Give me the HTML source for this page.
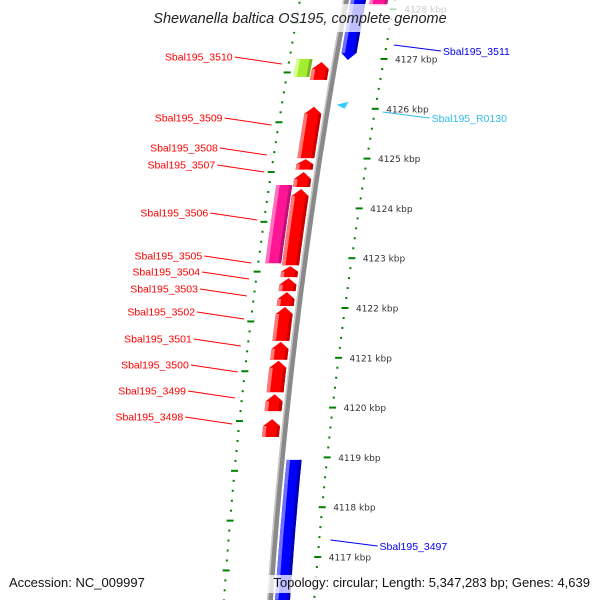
<!DOCTYPE html>
<html><head><meta charset="utf-8"><style>
html,body{margin:0;padding:0;background:#fff;}
svg{display:block;font-family:"Liberation Sans","DejaVu Sans",sans-serif;}
</style></head><body>
<svg id="chart" width="600" height="600" viewBox="0 0 600 600" xmlns="http://www.w3.org/2000/svg">
<rect x="0" y="0" width="600" height="600" fill="#fff"/>
<g id="rings"></g>
<g id="backbone"></g>
<g id="genes"></g>
<g id="labels"></g>
<rect x="140" y="4" width="320" height="28" fill="#fff" opacity="0.75"/>
<text x="300" y="23" text-anchor="middle" font-style="italic" font-size="14.5" fill="#222">Shewanella baltica OS195, complete genome</text>
<rect x="4" y="575" width="146" height="18" fill="#fff" opacity="0.75"/>
<rect x="258" y="575" width="338" height="18" fill="#fff" opacity="0.75"/>
<text x="9" y="587" font-size="13" fill="#111">Accession: NC_009997</text>
<text x="590" y="587" text-anchor="end" font-size="13" fill="#111">Topology: circular; Length: 5,347,283 bp; Genes: 4,639</text>
</svg>
<script>
// ---- data ----
const geneNames   = ["Sbal195_3510","Sbal195_3510b","Sbal195_3509","Sbal195_3508","Sbal195_3507","Sbal195_3506","Sbal195_3506b","Sbal195_3505","Sbal195_3504","Sbal195_3503","Sbal195_3502","Sbal195_3501","Sbal195_3500","Sbal195_3499","Sbal195_3498","Sbal195_3497","Sbal195_3511","Sbal195_3512","Sbal195_3513"];
const geneStarts  = [4126.64,4126.58,4125.01,4124.78,4124.43,4122.90,4122.86,4122.62,4122.34,4122.04,4121.34,4120.96,4120.31,4119.93,4119.41,4116.00,4126.98,4128.18,4128.08];
const geneEnds    = [4127.00,4126.94,4126.04,4124.99,4124.73,4124.47,4124.39,4122.84,4122.60,4122.32,4122.02,4121.32,4120.94,4120.27,4119.77,4118.95,4128.40,4128.40,4128.40];
const geneStrands = [0,1,1,1,1,0,1,1,1,1,1,1,1,1,1,-1,-1,-1,0];
const geneTracks  = ["L2","L1","L1","L1","L1","L2","L1","L1","L1","L1","L1","L1","L1","L1","L1","R1","R1","R1","R2"];
const geneColors  = ["green","red","red","red","red","pink","red","red","red","red","red","red","red","red","red","blue","blue","blue","pink"];
const tickLabels  = [4128,4127,4126,4125,4124,4123,4122,4121,4120,4119,4118,4117];
const leftLabelNames = ["Sbal195_3510","Sbal195_3509","Sbal195_3508","Sbal195_3507","Sbal195_3506","Sbal195_3505","Sbal195_3504","Sbal195_3503","Sbal195_3502","Sbal195_3501","Sbal195_3500","Sbal195_3499","Sbal195_3498"];
const leftLabelY  = [56,117,147,164,212,255,271,288,311,338,364,390,416];
const rightLabelNames = ["Sbal195_3511","Sbal195_R0130","Sbal195_3497"];
const rightLabelY = [45,112,540];
const rightLabelColors = ["#0000ee","#33bbee","#0000ee"];
const rnaPos = 4126.06;

// ---- scales ----
const NS="http://www.w3.org/2000/svg";
function ky(k){return 59+(4127-k)*49.8;}
function bx(y){return 346-0.1838*y+0.0000952*y*y;}
const trackOff={L2:[-39,-23],L1:[-22,-5],R1:[5,20],R2:[24,42]};
const palette={red:["#ff7878","#ff0000","#c80000"],pink:["#ff70c0","#ff1493","#c0107a"],green:["#d4ff8a","#a4ec30","#78b820"],blue:["#7070ff","#0000ff","#0000b0"]};
function el(tag,attrs,parent){const e=document.createElementNS(NS,tag);for(const k in attrs)e.setAttribute(k,attrs[k]);parent.appendChild(e);return e;}

// ---- rings ----
const rings=document.getElementById('rings');
function rOff(y){return 49-0.008*y;}
for(let i=0;i<=70;i++){
  const k=4128.6-i*0.2;const y=ky(k);if(y<-5||y>605)continue;
  const major=Math.abs(k-Math.round(k))<0.01;
  const x=bx(y)+rOff(y);
  const d=el('rect',{x:major?x-3.5:x-1,y:y-1,width:major?7:2,height:2,fill:'#008000'},rings);
  
  
}
for(let i=0;i<=70;i++){
  const k=4128.73-i*0.2;const y=ky(k);if(y<-5||y>605)continue;
  const major=(i%5)===0;
  const x=bx(y)-46;
  const d=el('rect',{x:major?x-3.5:x-1,y:y-1,width:major?7:2,height:2,fill:'#008000'},rings);
  
  
}
tickLabels.forEach(k=>{
  const y=ky(k);const x=bx(y)+rOff(y)+11;
  const t=el('text',{x:x,y:y+3.5,'font-size':9,fill:'#333','font-family':'DejaVu Sans, sans-serif'},rings);
  t.textContent=k+' kbp';
  
  
});

// ---- backbone ----
const bb=document.getElementById('backbone');
function curvePts(o1,o2,y1,y2){const a=[],b=[];const n=Math.max(2,Math.ceil(Math.abs(y2-y1)/8));for(let i=0;i<=n;i++){const y=y1+(y2-y1)*i/n;a.push([bx(y)+o1,y]);b.unshift([bx(y)+o2,y]);}return a.concat(b);}
function ptsStr(p){return p.map(q=>q[0].toFixed(1)+','+q[1].toFixed(1)).join(' ');}
const bp=el('polygon',{points:ptsStr(curvePts(-3,3,-5,605)),fill:'#8a8a8a'},bb);


const bl=el('polygon',{points:ptsStr(curvePts(-3,-1.5,-5,605)),fill:'#c8c8c8'},bb);



// ---- genes ----
const gg=document.getElementById('genes');
function geneShape(o1,o2,yTop,yBot,strand){
  const h=Math.min(7,(yBot-yTop)*0.5);const mid=(o1+o2)/2;
  const body=curvePts(o1,o2,strand===1?yTop+h:yTop,strand===-1?yBot-h:yBot);
  const n=body.length/2;let left=body.slice(0,n),right=body.slice(n);
  let pts=left.concat(strand===-1?[[bx(yBot)+mid,yBot]]:[]).concat(right);
  if(strand===1)pts.push([bx(yTop)+mid,yTop]);
  return pts;
}
geneNames.forEach((nm,i)=>{
  const yTop=ky(geneEnds[i]),yBot=ky(geneStarts[i]);
  const [o1,o2]=trackOff[geneTracks[i]];const c=palette[geneColors[i]];
  const g=el('g',{},gg);
  
  
  el('polygon',{points:ptsStr(geneShape(o1,o2,yTop,yBot,geneStrands[i])),fill:c[1]},g);
  const h=Math.min(7,(yBot-yTop)*0.5);
  const sT=geneStrands[i]===1?yTop+h:yTop,sB=geneStrands[i]===-1?yBot-h:yBot;
  el('polygon',{points:ptsStr(curvePts(o1,o1+3.5,sT,sB)),fill:c[0]},g);
  el('polygon',{points:ptsStr(curvePts(o2-3,o2,sT,sB)),fill:c[2]},g);
});
// small RNA arrow
{const y=ky(rnaPos);const x=bx(y)+9;
 const t=el('polygon',{points:`${x},${y-1} ${x+12},${y-4} ${x+8},${y+3}`,fill:'#33ccff'},gg);
 
 }

// ---- labels ----
const lg=document.getElementById('labels');
leftLabelNames.forEach((nm,i)=>{
  const ty=leftLabelY[i];const ye=ty+8;const ex=bx(ye)-53;const sx=ex-47;
  const l=el('line',{x1:sx,y1:ty+1,x2:ex,y2:ye,stroke:'#ff0000','stroke-width':1},lg);
  
  
  const t=el('text',{x:sx-2,y:ty+4.5,'text-anchor':'end','font-size':10.5,fill:'#ff0000'},lg);
  t.textContent=nm;
  
  
});
rightLabelNames.forEach((nm,i)=>{
  const ys=rightLabelY[i];const sx=bx(ys)+56;const ex=sx+47;const ye=ys+6;
  const l=el('line',{x1:sx,y1:ys,x2:ex,y2:ye,stroke:rightLabelColors[i],'stroke-width':1},lg);
  
  
  const t=el('text',{x:ex+2,y:ye+4,'font-size':10.5,fill:rightLabelColors[i]},lg);
  t.textContent=nm;
  
  
});
</script>
</body></html>
